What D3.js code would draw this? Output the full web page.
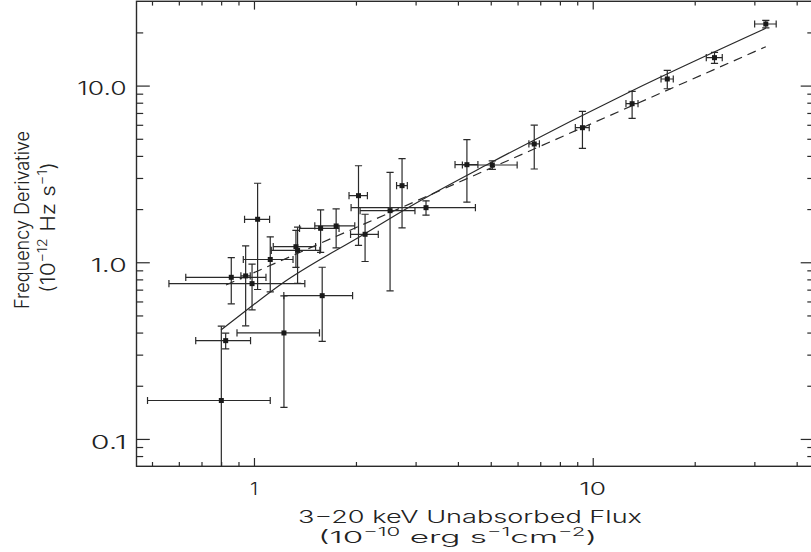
<!DOCTYPE html>
<html>
<head>
<meta charset="utf-8">
<script src="https://cdn.jsdelivr.net/npm/d3@7"></script>
<style>
  body { margin: 0; background: #fff; }
  text { font-family: Inter, "Liberation Sans", Arial, sans-serif; font-weight: 300; fill: #222; }
</style>
</head>
<body>
<svg id="chart" width="811" height="552"></svg>
<script>
// Spin-up rate against 3-20 keV unabsorbed flux, with 1-sigma errors
const flux     = [0.801, 0.825, 0.857, 0.945, 0.987, 1.025, 1.117, 1.226, 1.330, 1.345, 1.573, 1.590, 1.748,
                  2.035, 2.128, 2.522, 2.736, 3.220, 4.252, 5.053, 6.72, 9.325, 13.07, 16.60, 22.88, 32.43];
const fluxErr  = [0.316, 0.152, 0.228, 0.03, 0.426, 0.087, 0.187, 0.335, 0.19, 0.22, 0.21, 0.365, 0.236,
                  0.127, 0.20, 0.465, 0.10, 1.285, 0.33, 0.93, 0.24, 0.44, 0.535, 0.69, 1.24, 2.37];
const nuDot    = [0.165, 0.360, 0.822, 0.837, 0.757, 1.751, 1.037, 0.398, 1.225, 1.169, 1.557, 0.647, 1.605,
                  2.382, 1.440, 1.959, 2.714, 2.037, 3.567, 3.553, 4.673, 5.777, 7.898, 10.90, 14.39, 22.32];
const nuDotErr = [0.27, 0.037, 0.24, 0.40, 0.22, 1.05, 0.357, 0.247, 0.29, 0.41, 0.42, 0.29, 0.40,
                  1.135, 0.43, 1.27, 1.15, 0.19, 1.38, 0.20, 1.30, 1.37, 1.38, 1.30, 1.03, 1.10];

// Accretion-torque model (solid) and pure power law (dashed)
const modelFlux  = [0.799, 0.952, 1.193, 2.124, 2.883, 4.962, 13.07, 32.43];
const modelNuDot = [0.414, 0.537, 0.744, 1.450, 2.064, 3.634, 9.357, 21.10];
const powerLawFlux  = [0.827, 32.43];
const powerLawNuDot = [0.744, 16.60];

// Axis ticks
const xMajorTicks = [1, 10];
const xTickLabels = ["1", "10"];
const xMinorTicks = [0.5, 0.6, 0.7, 0.8, 0.9, 2, 3, 4, 5, 6, 7, 8, 9, 20, 30, 40];
const yMajorTicks = [0.1, 1, 10];
const yTickLabels = ["0.1", "1.0", "10.0"];
const yMinorTicks = [0.08, 0.09, 0.2, 0.3, 0.4, 0.5, 0.6, 0.7, 0.8, 0.9, 2, 3, 4, 5, 6, 7, 8, 9, 20];

const svg = d3.select("#chart");
const ink = "#2a2a2a";

const plot = { left: 136.5, right: 814, top: 1.3, bottom: 466.3 };
const x = d3.scaleLog().domain([0.45, 45]).range([plot.left, plot.right]);
const y = d3.scaleLog().domain([0.07, 30]).range([plot.bottom, plot.top]);

svg.append("rect").attr("width", 811).attr("height", 552).attr("fill", "#fff");

svg.append("clipPath").attr("id", "plotClip")
  .append("rect")
  .attr("x", plot.left).attr("y", plot.top)
  .attr("width", plot.right - plot.left).attr("height", plot.bottom - plot.top);

// ---- axes: ticks point inward on all four sides ----
function tickAxis(axisFn, scale, values, size, transform) {
  const g = svg.append("g").attr("transform", transform)
    .call(axisFn(scale).tickValues(values).tickSize(size).tickFormat(""));
  g.select(".domain").remove();
  g.selectAll(".tick line").attr("stroke", ink).attr("stroke-width", 1.2);
  return g;
}
const xMajLen = 8.3, xMinLen = 4.3, yMajLen = 13.3, yMinLen = 6.7;
tickAxis(d3.axisBottom, x, xMajorTicks, -xMajLen, `translate(0,${plot.bottom})`);
tickAxis(d3.axisBottom, x, xMinorTicks, -xMinLen, `translate(0,${plot.bottom})`);
tickAxis(d3.axisTop, x, xMajorTicks, -xMajLen, `translate(0,${plot.top})`);
tickAxis(d3.axisTop, x, xMinorTicks, -xMinLen, `translate(0,${plot.top})`);
tickAxis(d3.axisLeft, y, yMajorTicks, -yMajLen, `translate(${plot.left},0)`);
tickAxis(d3.axisLeft, y, yMinorTicks, -yMinLen, `translate(${plot.left},0)`);
tickAxis(d3.axisRight, y, yMajorTicks, -yMajLen, `translate(${plot.right},0)`);
tickAxis(d3.axisRight, y, yMinorTicks, -yMinLen, `translate(${plot.right},0)`);

svg.append("rect")
  .attr("x", plot.left).attr("y", plot.top)
  .attr("width", plot.right - plot.left).attr("height", plot.bottom - plot.top)
  .attr("fill", "none").attr("stroke", ink).attr("stroke-width", 1.4);

// ---- tick labels ----
const yLabelWidths = { "0.1": 36, "1.0": 36, "10.0": 49.4 };
svg.append("g").selectAll("text").data(yMajorTicks).join("text")
  .attr("x", 126.7).attr("y", d => y(d) + 9.6)
  .attr("text-anchor", "end")
  .attr("font-size", 18)
  .attr("textLength", (d, i) => yLabelWidths[yTickLabels[i]])
  .attr("lengthAdjust", "spacingAndGlyphs")
  .text((d, i) => yTickLabels[i]);

const xLabelWidths = { "1": 8, "10": 26.7 };
svg.append("g").selectAll("text").data(xMajorTicks).join("text")
  .attr("x", d => x(d)).attr("y", 495)
  .attr("text-anchor", "middle")
  .attr("font-size", 17)
  .attr("textLength", (d, i) => xLabelWidths[xTickLabels[i]])
  .attr("lengthAdjust", "spacingAndGlyphs")
  .text((d, i) => xTickLabels[i]);

// ---- axis titles ----
svg.append("text")
  .attr("x", 298).attr("y", 522.5)
  .attr("font-size", 17)
  .attr("textLength", 344).attr("lengthAdjust", "spacingAndGlyphs")
  .text("3\u221220 keV Unabsorbed Flux");

function withSuperscripts(sel, parts, baseSize, supSize, lift) {
  let raised = false;
  parts.forEach(([str, sup]) => {
    const t = sel.append("tspan").text(str);
    if (sup) { t.attr("font-size", supSize).attr("dy", -lift); raised = true; }
    else { t.attr("font-size", baseSize); if (raised) { t.attr("dy", lift); raised = false; } }
  });
}

const xUnits = svg.append("text")
  .attr("x", 318).attr("y", 542.5)
  .attr("textLength", 279).attr("lengthAdjust", "spacingAndGlyphs");
withSuperscripts(xUnits, [["(10", false], ["\u221210", true], [" erg s", false], ["\u22121", true],
                          ["cm", false], ["\u22122", true], [")", false]], 16.5, 11, 6.5);

svg.append("text")
  .attr("transform", "translate(28.5,220) rotate(-90)")
  .attr("text-anchor", "middle")
  .attr("font-size", 20)
  .attr("textLength", 178).attr("lengthAdjust", "spacingAndGlyphs")
  .text("Frequency Derivative");

const yUnits = svg.append("text")
  .attr("transform", "translate(55,227.5) rotate(-90)")
  .attr("text-anchor", "middle")
  .attr("textLength", 131).attr("lengthAdjust", "spacingAndGlyphs");
withSuperscripts(yUnits, [["(10", false], ["\u221212", true], [" Hz s", false], ["\u22121", true],
                          [")", false]], 20, 13, 8.5);

// ---- model lines ----
const plotArea = svg.append("g").attr("clip-path", "url(#plotClip)");

const line = d3.line().x(d => x(d[0])).y(d => y(d[1])).curve(d3.curveMonotoneX);
plotArea.append("path")
  .datum(d3.zip(modelFlux, modelNuDot))
  .attr("d", line)
  .attr("fill", "none").attr("stroke", ink).attr("stroke-width", 1.2);

plotArea.append("path")
  .datum(d3.zip(powerLawFlux, powerLawNuDot))
  .attr("d", d3.line().x(d => x(d[0])).y(d => y(d[1])))
  .attr("fill", "none").attr("stroke", ink).attr("stroke-width", 1.2)
  .attr("stroke-dasharray", "9,6");

// ---- data points with error bars ----
const points = flux.map((f, i) => ({ f, fe: fluxErr[i], n: nuDot[i], ne: nuDotErr[i] }));
const cap = 3.6;
const ymin = y.domain()[0];

const bars = plotArea.append("g").attr("stroke", ink).attr("stroke-width", 1.2).attr("fill", "none");
points.forEach(p => {
  const cx = x(p.f), cy = y(p.n);
  const lo = p.n - p.ne;
  const yLo = lo > 0 ? y(lo) : y(ymin) + 5;
  const yHi = y(p.n + p.ne);
  const xLo = x(p.f - p.fe), xHi = x(p.f + p.fe);
  // vertical bar and caps
  bars.append("line").attr("x1", cx).attr("x2", cx).attr("y1", yLo).attr("y2", yHi);
  bars.append("line").attr("x1", cx - cap).attr("x2", cx + cap).attr("y1", yHi).attr("y2", yHi);
  if (lo > 0) bars.append("line").attr("x1", cx - cap).attr("x2", cx + cap).attr("y1", yLo).attr("y2", yLo);
  // horizontal bar and caps
  bars.append("line").attr("x1", xLo).attr("x2", xHi).attr("y1", cy).attr("y2", cy);
  bars.append("line").attr("x1", xLo).attr("x2", xLo).attr("y1", cy - cap).attr("y2", cy + cap);
  bars.append("line").attr("x1", xHi).attr("x2", xHi).attr("y1", cy - cap).attr("y2", cy + cap);
});

const sq = 5;
plotArea.append("g").selectAll("rect").data(points).join("rect")
  .attr("x", d => x(d.f) - sq / 2).attr("y", d => y(d.n) - sq / 2)
  .attr("width", sq).attr("height", sq)
  .attr("fill", "#1a1a1a");
</script>
</body>
</html>
